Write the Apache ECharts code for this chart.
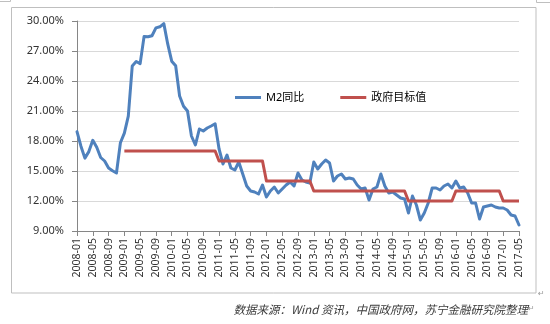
<!DOCTYPE html>
<html>
<head>
<meta charset="utf-8">
<script src="https://cdn.jsdelivr.net/npm/echarts@6/dist/echarts.min.js"></script>
<style>
  html, body { margin: 0; padding: 0; background: #ffffff; }
  #chart { width: 550px; height: 324px; }
</style>
</head>
<body>
<div id="chart"></div>
<script>
// Monthly categories, 2008-01 .. 2017-05
const startYear = 2008;
const endYear = 2017;
const endMonth = 5;
const months = [];
for (let y = startYear; y <= endYear; y++) {
  const last = (y === endYear) ? endMonth : 12;
  for (let m = 1; m <= last; m++) {
    months.push(y + '-' + (m < 10 ? '0' + m : '' + m));
  }
}

// M2 year-on-year growth, %
const m2Growth = [
  18.94, 17.48, 16.29, 16.94, 18.07, 17.37, 16.35, 16.00, 15.29, 15.02, 14.80, 17.82, // 2008
  18.79, 20.48, 25.51, 25.95, 25.74, 28.46, 28.42, 28.53, 29.31, 29.42, 29.74, 27.68, // 2009
  25.98, 25.52, 22.50, 21.48, 21.00, 18.50, 17.60, 19.20, 19.00, 19.30, 19.50, 19.72, // 2010
  17.20, 15.70, 16.60, 15.30, 15.10, 15.90, 14.70, 13.50, 13.00, 12.90, 12.70, 13.60, // 2011
  12.40, 13.00, 13.40, 12.80, 13.20, 13.60, 13.90, 13.50, 14.80, 14.10, 13.90, 13.80, // 2012
  15.90, 15.20, 15.70, 16.10, 15.80, 14.00, 14.50, 14.70, 14.20, 14.30, 14.20, 13.60, // 2013
  13.20, 13.30, 12.10, 13.20, 13.40, 14.70, 13.50, 12.80, 12.90, 12.60, 12.30, 12.20, // 2014
  10.80, 12.50, 11.60, 10.10, 10.80, 11.80, 13.30, 13.30, 13.10, 13.50, 13.70, 13.30, // 2015
  14.00, 13.30, 13.40, 12.80, 11.80, 11.80, 10.20, 11.40, 11.50, 11.60, 11.40, 11.30, // 2016
  11.30, 11.10, 10.60, 10.50, 9.60                                                     // 2017
];

// Government M2 growth target, %
const govTarget = [
  null, null, null, null, null, null, null, null, null, null, null, null, // 2008
  17, 17, 17, 17, 17, 17, 17, 17, 17, 17, 17, 17,                         // 2009
  17, 17, 17, 17, 17, 17, 17, 17, 17, 17, 17, 17,                         // 2010
  16, 16, 16, 16, 16, 16, 16, 16, 16, 16, 16, 16,                         // 2011
  14, 14, 14, 14, 14, 14, 14, 14, 14, 14, 14, 14,                         // 2012
  13, 13, 13, 13, 13, 13, 13, 13, 13, 13, 13, 13,                         // 2013
  13, 13, 13, 13, 13, 13, 13, 13, 13, 13, 13, 13,                         // 2014
  12, 12, 12, 12, 12, 12, 12, 12, 12, 12, 12, 12,                         // 2015
  13, 13, 13, 13, 13, 13, 13, 13, 13, 13, 13, 13,                         // 2016
  12, 12, 12, 12, 12                                                      // 2017
];

const seriesNames = ['M2同比', '政府目标值'];
const sourceNote = '数据来源：Wind 资讯，中国政府网，苏宁金融研究院整理';

const FONT = '"Noto Sans", "Noto Sans CJK SC", sans-serif';
const CJK_FONT = '"Noto Sans CJK SC", "Noto Sans", sans-serif';

const chart = echarts.init(document.getElementById('chart'), null, { renderer: 'canvas' });

chart.setOption({
  animation: false,
  backgroundColor: '#ffffff',
  grid: { left: 77, top: 21, width: 442, height: 210, containLabel: false },
  legend: {
    data: seriesNames,
    left: 230,
    top: 87,
    icon: 'rect',
    itemWidth: 26,
    itemHeight: 3,
    itemGap: 36,
    textStyle: { fontFamily: FONT, fontSize: 11, color: '#000000' }
  },
  xAxis: {
    type: 'category',
    data: months,
    boundaryGap: false,
    axisLine: { show: true, lineStyle: { color: '#868686', width: 1 } },
    axisTick: { show: true, interval: 3, length: 5, lineStyle: { color: '#868686' } },
    axisLabel: {
      interval: 3,
      rotate: 90,
      margin: 7,
      fontFamily: FONT,
      fontSize: 10.5,
      color: '#333333'
    },
    splitLine: { show: false }
  },
  yAxis: {
    type: 'value',
    min: 9,
    max: 30,
    interval: 3,
    axisLine: { show: true, lineStyle: { color: '#868686', width: 1 } },
    axisTick: { show: true, length: 5, lineStyle: { color: '#868686' } },
    axisLabel: {
      margin: 13,
      fontFamily: FONT,
      fontSize: 11,
      color: '#333333',
      formatter: v => v.toFixed(2) + '%'
    },
    splitLine: { show: true, lineStyle: { color: '#d9d9d9', width: 1 } }
  },
  series: [
    {
      name: seriesNames[0],
      type: 'line',
      data: m2Growth,
      symbol: 'none',
      lineStyle: { color: '#4F81BD', width: 3, join: 'round', cap: 'round' },
      itemStyle: { color: '#4F81BD' }
    },
    {
      name: seriesNames[1],
      type: 'line',
      data: govTarget,
      symbol: 'none',
      connectNulls: false,
      lineStyle: { color: '#C0504D', width: 3, join: 'round' },
      itemStyle: { color: '#C0504D' }
    }
  ],
  graphic: [
    {
      type: 'rect',
      silent: true,
      shape: { x: 11.5, y: 7.5, width: 524.5, height: 285.5 },
      style: { fill: 'none', stroke: '#bfbfbf', lineWidth: 1 }
    },
    {
      type: 'polyline',
      silent: true,
      shape: { points: [[0, 1.5], [10.5, 1.5], [10.5, 0]] },
      style: { fill: 'none', stroke: '#bfbfbf', lineWidth: 1 }
    },
    {
      type: 'polyline',
      silent: true,
      shape: { points: [[536.5, 0], [536.5, 2.5], [550, 2.5]] },
      style: { fill: 'none', stroke: '#bfbfbf', lineWidth: 1 }
    },
    {
      type: 'text',
      silent: true,
      left: 538,
      top: 290,
      style: { text: '↵', fontSize: 8, fill: '#9a9a9a', fontFamily: 'DejaVu Sans' }
    },
    {
      type: 'text',
      silent: true,
      right: 22,
      top: 304,
      style: {
        text: sourceNote,
        fontFamily: CJK_FONT,
        fontSize: 11.5,
        fontStyle: 'italic',
        fill: '#3a3a3a'
      }
    },
    {
      type: 'text',
      silent: true,
      left: 528,
      top: 305,
      style: { text: '↵', fontSize: 8, fill: '#9a9a9a', fontFamily: 'DejaVu Sans' }
    }
  ]
});
</script>
</body>
</html>
